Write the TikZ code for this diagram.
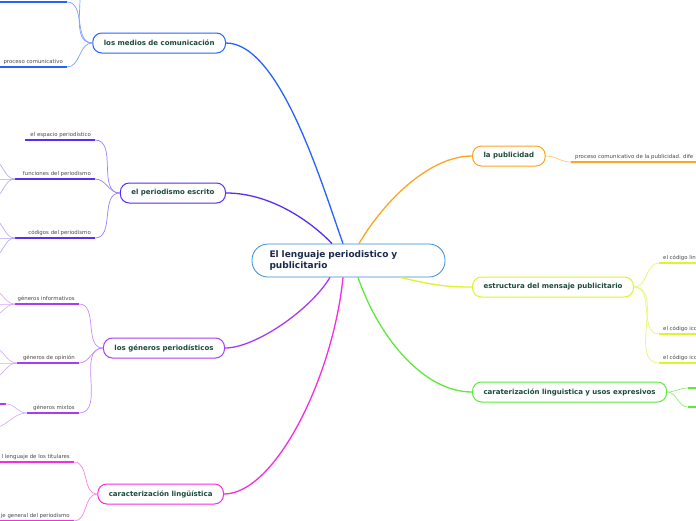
\documentclass[tikz,border=0pt]{standalone}
\usepackage{fontspec}
\setmainfont{DejaVu Sans}
\usepackage{tikz}
\usetikzlibrary{positioning}
\usepackage{xcolor}
\definecolor{rootc}{HTML}{3A8DD0}
\definecolor{roottxt}{HTML}{1B2A4E}
\definecolor{toptxt}{HTML}{1C4A3A}
\definecolor{leaftxt}{HTML}{4A4A4A}
\definecolor{medc}{HTML}{2563FF}
\definecolor{escc}{HTML}{5A2EF5}
\definecolor{genc}{HTML}{A83CF5}
\definecolor{carc}{HTML}{F52CE0}
\definecolor{pubc}{HTML}{FFA41F}
\definecolor{estc}{HTML}{DDF52A}
\definecolor{usoc}{HTML}{5DEB3A}

\begin{document}
\begin{tikzpicture}[x=1pt, y=-1pt,
  root/.style={draw=rootc, line width=0.8pt, rounded corners=16pt, fill=white,
    minimum width=193pt, minimum height=33pt, text width=158pt, inner xsep=17.5pt,
    align=left, font=\fontsize{9}{10.5}\selectfont\bfseries, text=roottxt},
  topic/.style={draw, line width=1pt, rounded corners=9pt, fill=white, minimum height=20pt,
    inner xsep=11pt, font=\fontsize{7}{8}\selectfont\bfseries, text=toptxt},
  leaf/.style={inner xsep=4pt, inner ysep=2pt, font=\fontsize{5.4}{6}\selectfont, text=leaftxt},
  trunk/.style={line width=1.3pt},
  br/.style={line width=0.7pt},
  ul/.style={line width=1.8pt},
  sub/.style={line width=0.6pt}
]
  \fill[white] (0,0) rectangle (696,520);
  \useasboundingbox (0,0) rectangle (696,520);

  % centre and main topics
  \node[root] (centre) at (348.5,260.5) {El lenguaje periodistico y\\publicitario};

  \node[topic, draw=medc, anchor=east] (medios) at (226,43) {los medios de comunicación};
  \node[topic, draw=escc, anchor=east] (escrito) at (226,193) {el periodismo escrito};
  \node[topic, draw=genc, anchor=east] (generos) at (225,348) {los géneros periodísticos};
  \node[topic, draw=carc, anchor=east] (caract) at (224,494) {caracterización lingüística};

  \node[topic, draw=pubc, anchor=west] (publi) at (472,156) {la publicidad};
  \node[topic, draw=estc, anchor=west] (estruct) at (472,287) {estructura del mensaje publicitario};
  \node[topic, draw=usoc, anchor=west] (usos) at (472,392) {caraterización linguistica y usos expresivos};

  \draw[trunk, medc] (medios.east) .. controls +(54,0) and +(-21,-59) .. ([xshift=-5.5pt]centre.north);
  \draw[trunk, escc] (escrito.east) .. controls +(44,0) and +(-22,-23) .. ([xshift=-16.5pt]centre.north);
  \draw[trunk, pubc] ([xshift=10.5pt]centre.north) .. controls +(26,-44) and +(-42,0) .. (publi.west);
  \draw[trunk, genc] ([xshift=-18.5pt]centre.south) .. controls +(-20,33) and +(30,0) .. (generos.east);
  \draw[trunk, carc] ([xshift=-5.5pt]centre.south) .. controls +(-10,100) and +(51,0) .. (caract.east);
  \draw[trunk, usoc] ([xshift=9.5pt]centre.south) .. controls +(22,63) and +(-47,0) .. (usos.west);
  \draw[trunk, estc] ([xshift=51.5pt]centre.south) .. controls +(35,8) and +(-25,0) .. (estruct.west);

  % los medios de comunicacion
  \coordinate (m0) at (67,-25);
  \coordinate (m1) at (67,2);
  \node[leaf, anchor=south east] (t-proc) at (67,67) {proceso comunicativo};
  \draw[ul, medc] (m0) -- +(-70,0);
  \draw[ul, medc] (m1) -- +(-70,0);
  \draw[ul, medc] (t-proc.south east) -- +(-70,0);
  \draw[br, medc!60] (medios.west) to[out=180, in=0] (m0);
  \draw[br, medc!60] (medios.west) to[out=180, in=0] (m1);
  \draw[br, medc!60] (medios.west) to[out=180, in=0] (t-proc.south east);

  % el periodismo escrito
  \node[leaf, anchor=south east] (t-esp) at (95,140) {el espacio periodístico};
  \node[leaf, anchor=south east] (t-fun) at (95,179) {funciones del periodismo};
  \node[leaf, anchor=south east] (t-cod) at (95,238) {códigos del periodismo};
  \draw[ul, escc] (t-esp.south east) -- +(-70,0);
  \draw[ul, escc] (t-fun.south east) -- +(-80,0) coordinate (fun-w);
  \draw[ul, escc] (t-cod.south east) -- +(-80,0) coordinate (cod-w);
  \foreach \t in {t-esp, t-fun, t-cod}
    \draw[br, escc!60] (escrito.west) to[out=180, in=0] (\t.south east);
  \coordinate (f1) at (-8,160);
  \coordinate (f2) at (-8,179);
  \coordinate (f3) at (-8,198);
  \coordinate (c1) at (-8,219);
  \coordinate (c2) at (-8,238);
  \coordinate (c3) at (-8,257);
  \foreach \s in {f1, f2, f3}
    \draw[sub, escc!45] (fun-w) to[out=180, in=0] (\s);
  \foreach \s in {c1, c2, c3}
    \draw[sub, escc!45] (cod-w) to[out=180, in=0] (\s);

  % los generos periodisticos
  \node[leaf, anchor=south east] (t-inf) at (79,304) {géneros informativos};
  \node[leaf, anchor=south east] (t-opi) at (79,363) {géneros de opinión};
  \node[leaf, anchor=south east] (t-mix) at (79,413) {géneros mixtos};
  \draw[ul, genc] (t-inf.south east) -- +(-64,0) coordinate (inf-w);
  \draw[ul, genc] (t-opi.south east) -- +(-62,0) coordinate (opi-w);
  \draw[ul, genc] (t-mix.south east) -- +(-52,0) coordinate (mix-w);
  \foreach \t in {t-inf, t-opi, t-mix}
    \draw[br, genc!60] (generos.west) to[out=180, in=0] (\t.south east);
  \coordinate (i1) at (-8,290);
  \coordinate (i2) at (-8,304);
  \coordinate (i3) at (-8,316);
  \coordinate (o1) at (-8,347);
  \coordinate (o2) at (-8,363);
  \coordinate (o3) at (-8,378);
  \coordinate (x1) at (6,404);
  \coordinate (x2) at (-8,428);
  \foreach \s in {i1, i2, i3}
    \draw[sub, genc!45] (inf-w) to[out=180, in=0] (\s);
  \foreach \s in {o1, o2, o3}
    \draw[sub, genc!45] (opi-w) to[out=180, in=0] (\s);
  \draw[ul, genc] (x1) -- +(-12,0);
  \draw[sub, genc!45] (mix-w) to[out=180, in=0] (x1);
  \draw[sub, genc!45] (mix-w) to[out=180, in=0] (x2);

  % caracterizacion linguistica
  \node[leaf, anchor=south east] (t-tit) at (74,462) {l lenguaje de los titulares};
  \node[leaf, anchor=south east] (t-gen) at (74,521) {je general del periodismo};
  \draw[ul, carc] (t-tit.south east) -- +(-80,0);
  \draw[ul, carc] (t-gen.south east) -- +(-80,0);
  \draw[br, carc!60] (caract.west) to[out=180, in=0] (t-tit.south east);
  \draw[br, carc!60] (caract.west) to[out=180, in=0] (t-gen.south east);

  % la publicidad
  \node[leaf, anchor=south west] (t-pub) at (571,162) {proceso comunicativo de la publicidad. dife};
  \draw[ul, pubc] (t-pub.south west) -- +(130,0);
  \draw[br, pubc!60] (publi.east) to[out=0, in=180] (t-pub.south west);

  % estructura del mensaje publicitario
  \node[leaf, anchor=south west] (t-lin) at (659,263) {el código lin};
  \node[leaf, anchor=south west] (t-ic1) at (659,334) {el código ico};
  \node[leaf, anchor=south west] (t-ic2) at (659,363) {el código ico};
  \foreach \t in {t-lin, t-ic1, t-ic2} {
    \draw[ul, estc] (\t.south west) -- +(50,0);
    \draw[br, estc!70] (estruct.east) to[out=0, in=180] (\t.south west);
  }

  % caraterizacion y usos expresivos
  \coordinate (u1) at (688,388);
  \coordinate (u2) at (688,407);
  \foreach \s in {u1, u2} {
    \draw[ul, usoc] (\s) -- +(20,0);
    \draw[br, usoc!70] (usos.east) to[out=0, in=180] (\s);
  }
\end{tikzpicture}
\end{document}
